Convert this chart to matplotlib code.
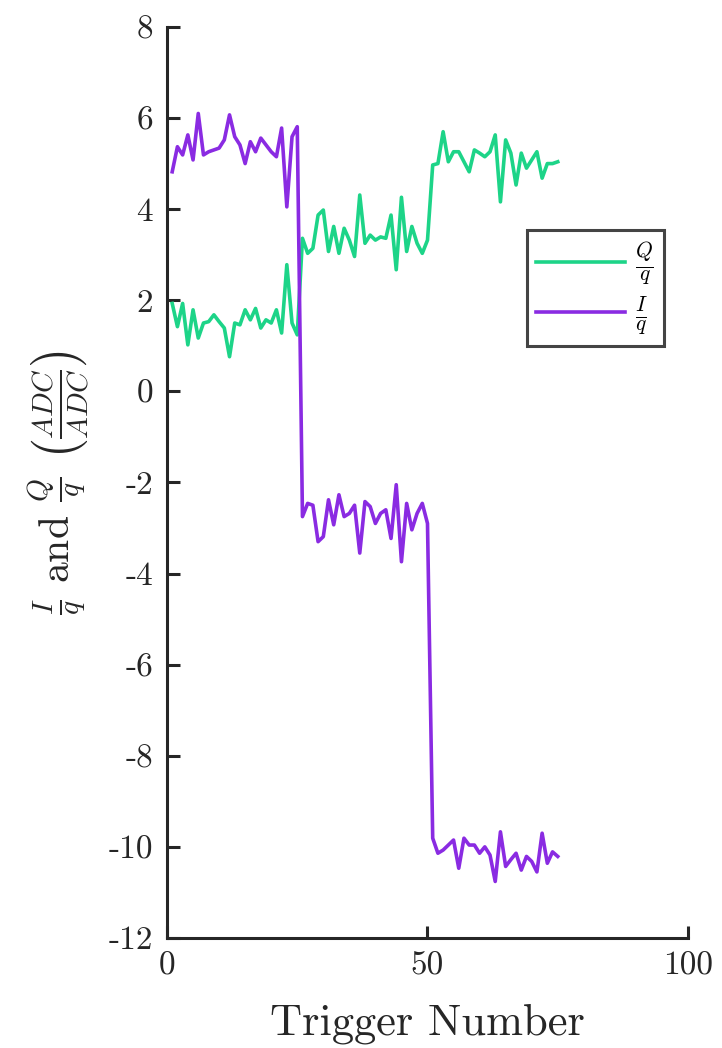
import matplotlib
matplotlib.use('Agg')
from matplotlib import pyplot as plt
import numpy as np

# trigger numbers 1..75, three plateaus of 25 triggers each
trigger = np.arange(1, 76)

q_ratio = [1.93, 1.42, 1.93, 1.02, 1.79, 1.17, 1.50, 1.53, 1.68, 1.53,
           1.39, 0.76, 1.50, 1.46, 1.79, 1.57, 1.82, 1.39, 1.57, 1.50,
           1.79, 1.28, 2.78, 1.50, 1.24,
           3.36, 3.03, 3.14, 3.87, 3.98, 3.07, 3.62, 3.03, 3.58, 3.32,
           2.96, 4.31, 3.25, 3.43, 3.32, 3.39, 3.36, 3.87, 2.67, 4.26,
           3.07, 3.62, 3.25, 3.03, 3.32,
           4.97, 5.00, 5.70, 5.04, 5.26, 5.26, 5.04, 4.82, 5.30, 5.23,
           5.15, 5.26, 5.63, 4.16, 5.52, 5.23, 4.53, 5.23, 4.90, 5.08,
           5.26, 4.68, 5.00, 5.00, 5.04]

i_ratio = [4.82, 5.37, 5.19, 5.63, 5.08, 6.10, 5.19, 5.26, 5.30, 5.34,
           5.52, 6.07, 5.59, 5.41, 5.00, 5.48, 5.26, 5.56, 5.41, 5.26,
           5.15, 5.78, 4.05, 5.59, 5.81,
           -2.75, -2.46, -2.50, -3.30, -3.19, -2.38, -2.93, -2.27, -2.75, -2.68,
           -2.50, -3.55, -2.42, -2.53, -2.90, -2.68, -2.60, -3.23, -2.05, -3.74,
           -2.46, -3.04, -2.68, -2.46, -2.90,
           -9.81, -10.14, -10.07, -9.96, -9.85, -10.47, -9.81, -9.96, -9.96, -10.14,
           -10.00, -10.18, -10.76, -9.67, -10.43, -10.28, -10.14, -10.51, -10.21, -10.32,
           -10.55, -9.70, -10.36, -10.11, -10.21]

x_ticks = [0, 50, 100]
y_ticks = [-12, -10, -8, -6, -4, -2, 0, 2, 4, 6, 8]

plt.rcParams['font.family'] = 'cmr10'
plt.rcParams['mathtext.fontset'] = 'cm'
plt.rcParams['axes.unicode_minus'] = False

green = '#1DD488'
purple = '#8A2BE2'
dark = '#262626'

fig = plt.figure(figsize=(7.22, 10.48), dpi=100)
ax = fig.add_axes([0.2313, 0.105, 0.7216, 0.8693])

ax.plot(trigger, q_ratio, color=green, lw=2.6, label=r'$\frac{Q}{q}$')
ax.plot(trigger, i_ratio, color=purple, lw=2.6, label=r'$\frac{I}{q}$')

ax.set_xlim(0, 100)
ax.set_ylim(-12, 8)
ax.set_xticks(x_ticks)
ax.set_xticklabels([str(t) for t in x_ticks])
ax.set_yticks(y_ticks)
ax.set_yticklabels([str(t) for t in y_ticks])

for s in ['top', 'right']:
    ax.spines[s].set_visible(False)
for s in ['left', 'bottom']:
    ax.spines[s].set_color(dark)
    ax.spines[s].set_linewidth(2.2)

ax.tick_params(direction='in', length=9, width=2.2, color=dark,
               labelsize=24, labelcolor=dark, pad=10)

ax.set_xlabel('Trigger Number', fontsize=32, color=dark, labelpad=16)
ax.set_ylabel(r'$\frac{I}{q}$ and $\frac{Q}{q}$ $\left(\frac{ADC}{ADC}\right)$',
              fontsize=30, color=dark, labelpad=12)

leg = ax.legend(loc='upper left', bbox_to_anchor=(0.691, 0.777), fontsize=22,
                frameon=True, fancybox=False, framealpha=1, handlelength=2.9,
                borderpad=0.3, labelspacing=0.25, handletextpad=0.35,
                borderaxespad=0)
leg.get_frame().set_edgecolor('#444444')
leg.get_frame().set_linewidth(2.2)

fig.savefig('out.png', dpi=100)
